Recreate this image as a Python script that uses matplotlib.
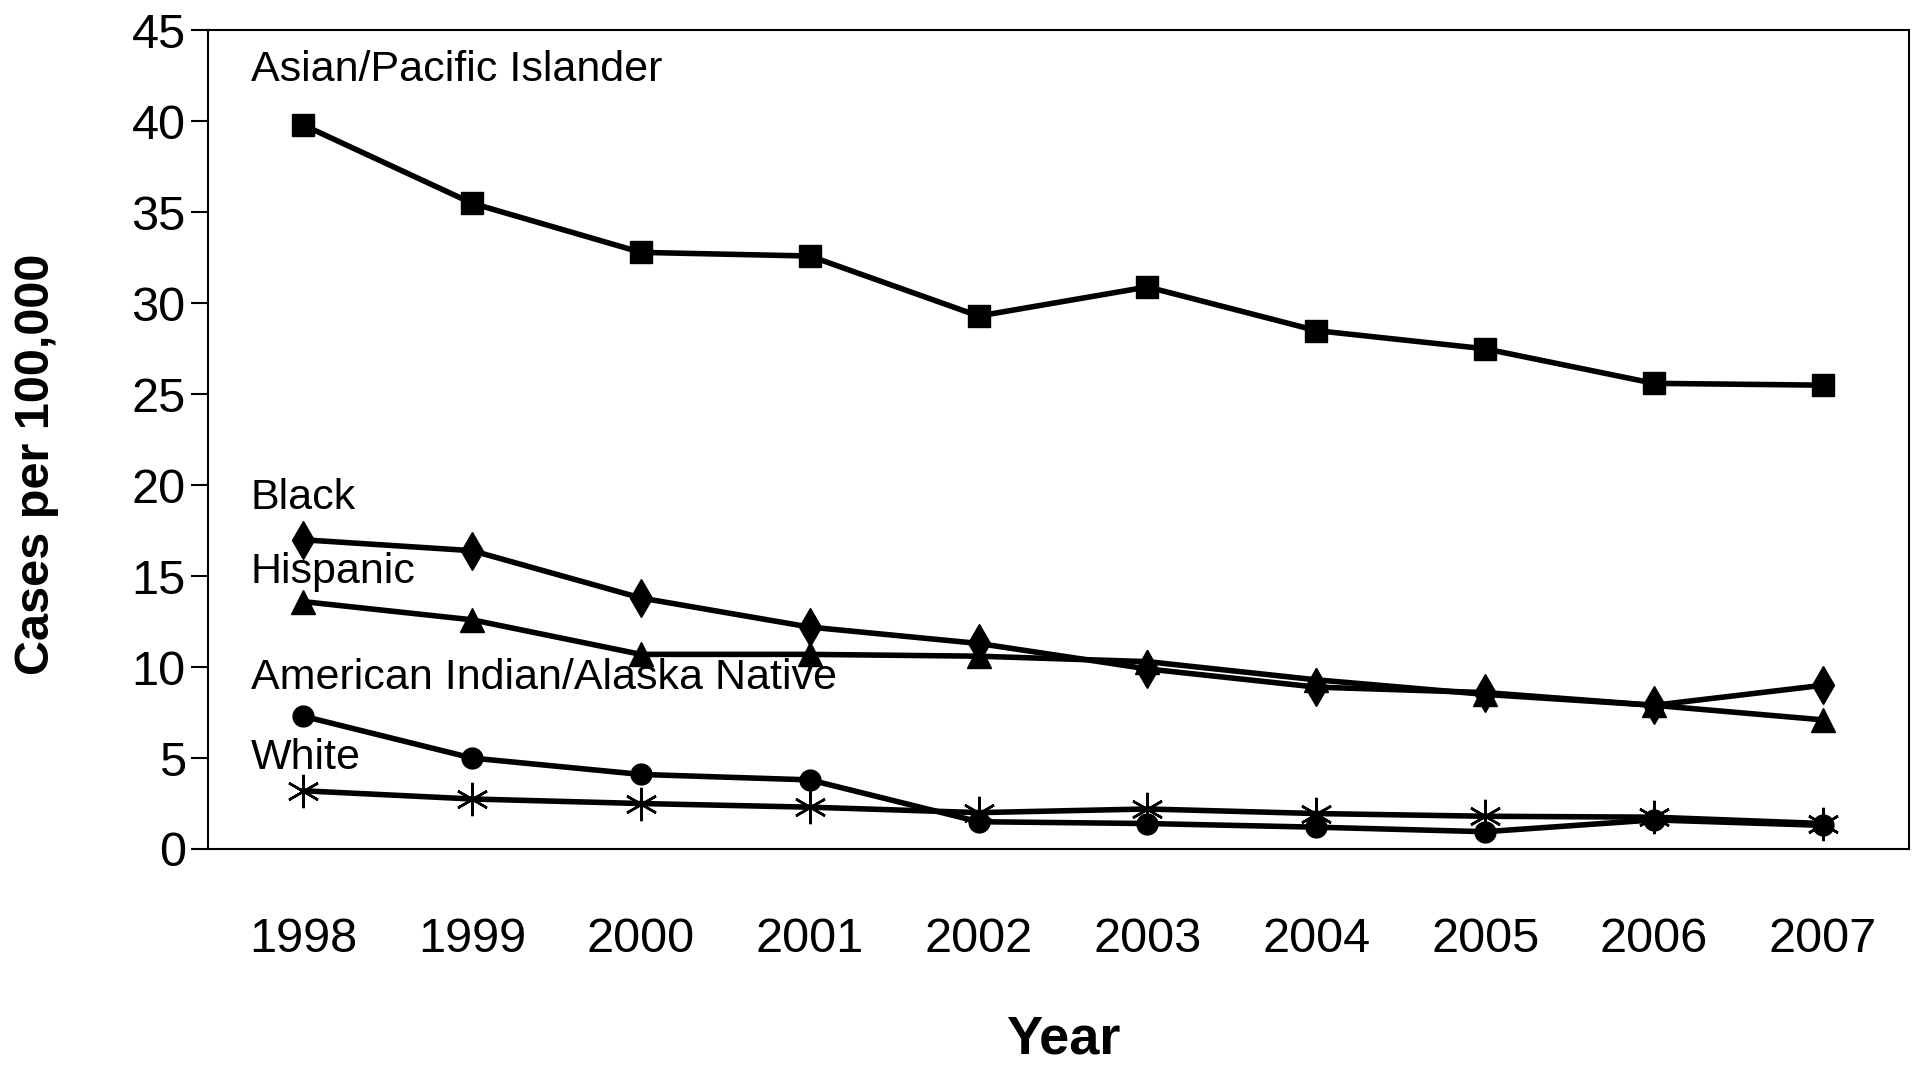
import numpy as np
import matplotlib.pyplot as plt

years = [1998, 1999, 2000, 2001, 2002, 2003, 2004, 2005, 2006, 2007]
asian = [39.8, 35.5, 32.8, 32.6, 29.3, 30.9, 28.5, 27.5, 25.6, 25.5]
black = [17.0, 16.4, 13.8, 12.2, 11.3, 9.9, 8.9, 8.6, 7.9, 9.0]
hispanic = [13.6, 12.6, 10.7, 10.7, 10.6, 10.3, 9.3, 8.5, 7.9, 7.1]
aian = [7.3, 5.0, 4.1, 3.8, 1.5, 1.4, 1.2, 0.95, 1.6, 1.3]
white = [3.2, 2.75, 2.5, 2.3, 2.0, 2.2, 1.95, 1.8, 1.75, 1.4]

label_names = ["Asian/Pacific Islander", "Black", "Hispanic",
               "American Indian/Alaska Native", "White"]
label_y = [42.85, 19.3, 15.25, 9.4, 5.0]

fam = ['Liberation Sans', 'DejaVu Sans']

fig = plt.figure(figsize=(19.16, 10.69), dpi=100)
ax = fig.add_axes([0.1085, 0.2058, 0.8878, 0.7657])

lw = 4
ax.plot(years, asian, color='black', lw=lw, marker='s', ms=16)
ax.plot(years, black, color='black', lw=lw, marker='d', ms=19)
ax.plot(years, hispanic, color='black', lw=lw, marker='^', ms=17)
ax.plot(years, aian, color='black', lw=lw, marker='o', ms=15)
ax.plot(years, white, color='black', lw=lw, marker=(6, 2, 0), ms=24, mew=1.8)

for name, yy in zip(label_names, label_y):
    ax.text(1997.69, yy, name, family=fam, fontsize=31, va='center', ha='left')

ax.set_xlim(1997.435, 2007.51)
ax.set_ylim(0, 45)
ax.set_yticks(np.arange(0, 46, 5))
ax.set_xticks(years)
ax.set_xticklabels([str(y) for y in years], family=fam, fontsize=35)
ax.set_yticklabels([str(v) for v in range(0, 46, 5)], family=fam, fontsize=35)
ax.tick_params(axis='x', length=0, pad=49)
ax.tick_params(axis='y', length=12, width=1.5, pad=4)
for s in ax.spines.values():
    s.set_linewidth(1.5)

fig.text(0.019, 0.566, "Cases per 100,000", rotation=90, fontsize=35,
         fontweight='bold', family=fam, ha='center', va='center')
fig.text(1063 / 1916, 1 - 1039 / 1069, "Year", fontsize=39, fontweight='bold',
         family=fam, ha='center', va='center')

fig.savefig('out.png', dpi=100)
